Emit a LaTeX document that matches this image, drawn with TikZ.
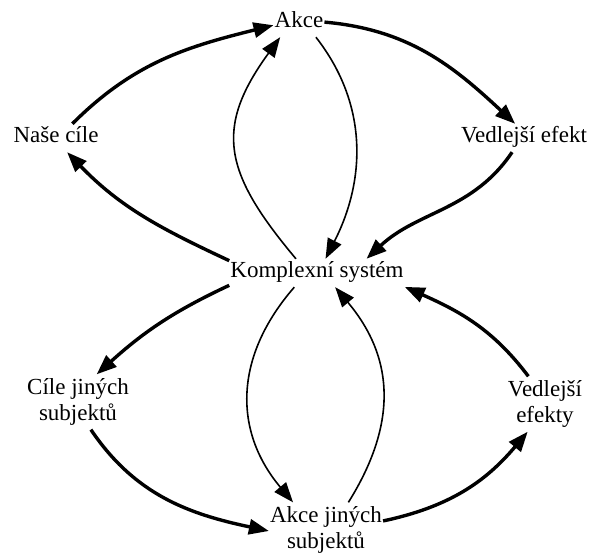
\documentclass[tikz,border=0pt]{standalone}
\usepackage{fontspec}
\setmainfont{Liberation Serif}
\newfontfamily\lblfont{Liberation Serif}
\usetikzlibrary{arrows.meta}

\begin{document}
\begin{tikzpicture}[x=1pt,y=1pt,>={Triangle[length=20pt,width=15pt]},
        lbl/.style={font=\lblfont\fontsize{23}{26}\selectfont,inner xsep=1pt,inner ysep=4pt},
        one/.style={lbl,text height=15pt,text depth=5pt},
        two/.style={lbl,align=center},
        heavy/.style={line width=3.4pt},
        light/.style={line width=1.6pt}]
        \useasboundingbox (0,0) rectangle (592,554);
        % nodes
        \node[one](akce) at (299,531) {Akce};
        \node[one](nase) at (56,416) {Naše cíle};
        \node[one](vedl) at (524,416) {Vedlejší efekt};
        \node[one](sys) at (317,281) {Komplexní systém};
        \node[two](cile) at (78,152) {Cíle jiných\\subjektů};
        \node[two](vedls) at (545,150) {Vedlejší\\efekty};
        \node[two](akcej) at (326,24) {Akce jiných\\subjektů};
        % outer loop
        \path[->,heavy]	(nase.41)	edge [out=45,in=194]	(akce.185)
        			(sys.172)	edge [out=155,in=-46]	(nase.-52)
        			(akce.2)	edge [out=-5,in=137]	(vedl.122)
        			(vedl.-130)	edge [out=236,in=43]	(sys.16)
        			(sys.188)	edge [out=205,in=42]	(cile.56)
        			(cile.-65)	edge [out=-56,in=168]	(akcej.181)
        			(akcej.9)	edge [out=12,in=230]	(vedls.-122)
        			(vedls.121)	edge [out=127,in=-24]	(sys.-9);
        % inner loop
        \path[->,light]	(sys.146)	edge [out=130,in=234,looseness=1.3]	(akce.217)
        			(akce.-40)	edge [out=-52,in=63]	(sys.59)
        			(sys.212)	edge [out=229,in=130,looseness=1.1]	(akcej.140)
        			(akcej.51)	edge [out=58,in=-50,looseness=1.1]	(sys.-38);
\end{tikzpicture}
\end{document}
